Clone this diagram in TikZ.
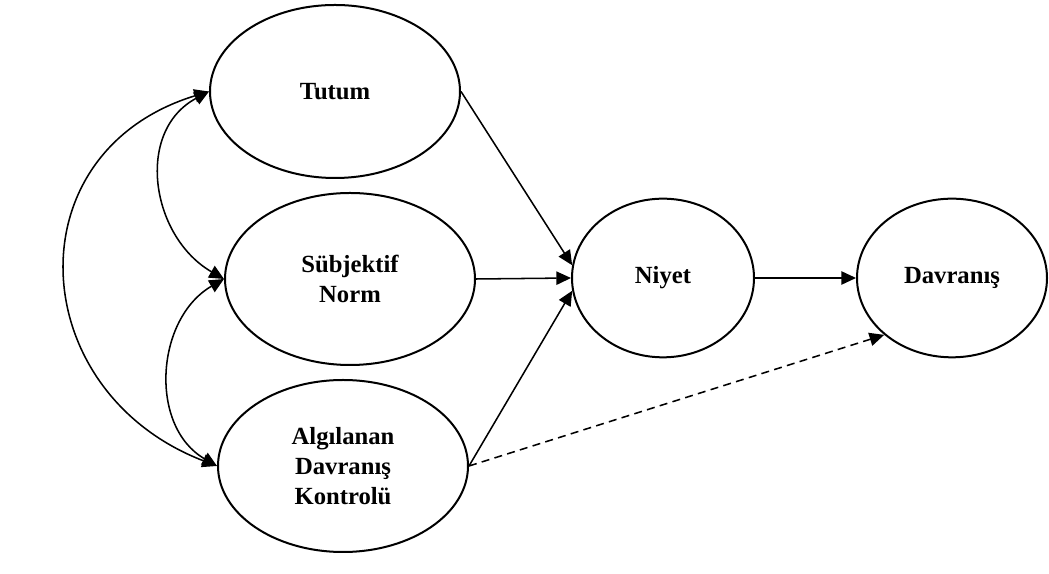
\documentclass[tikz,border=0pt]{standalone}
\usepackage{fontspec}
\setmainfont{Liberation Serif}
\usetikzlibrary{shapes.geometric,arrows.meta}

\begin{document}
\begin{tikzpicture}[x=0.75pt, y=0.75pt,
  construct/.style={draw, ellipse, line width=1.5pt, inner sep=0pt, align=center, font=\fontsize{18.5}{22.5}\selectfont\bfseries},
  link/.style={line width=1.15pt, -{Triangle[length=11pt, width=10pt]}},
  both/.style={line width=1.15pt, {Triangle[length=11pt, width=10pt]}-{Triangle[length=11pt, width=10pt]}}]
\useasboundingbox (0,0) rectangle (1049,574);

\node[construct, minimum width=187.5pt, minimum height=129.75pt] (tutum) at (335,482.5) {Tutum};
\node[construct, minimum width=187.5pt, minimum height=129pt] (norm) at (350,295) {Sübjektif\\Norm};
\node[construct, minimum width=187.5pt, minimum height=129pt] (kontrol) at (343,108) {Algılanan\\Davranış\\Kontrolü};
\node[construct, minimum width=136.5pt, minimum height=119pt] (niyet) at (663,296) {Niyet};
\node[construct, minimum width=142.5pt, minimum height=119pt] (davranis) at (952,296) {Davranış};

\draw[link] (tutum.east) -- (niyet.172);
\draw[link] (norm.east) -- (niyet.west);
\draw[link] (kontrol.east) -- (niyet.188);
\draw[link] (niyet.east) -- (davranis.west);
\draw[link, dash pattern=on 6pt off 4pt] (kontrol.east) -- (davranis.220);

\draw[both] (tutum.west) to[out=208, in=150, looseness=1.15] (norm.west);
\draw[both] (norm.west) to[out=210, in=150, looseness=1.08] (kontrol.west);
\draw[both] (tutum.west) to[out=197, in=159, looseness=1.41] (kontrol.west);
\end{tikzpicture}
\end{document}
